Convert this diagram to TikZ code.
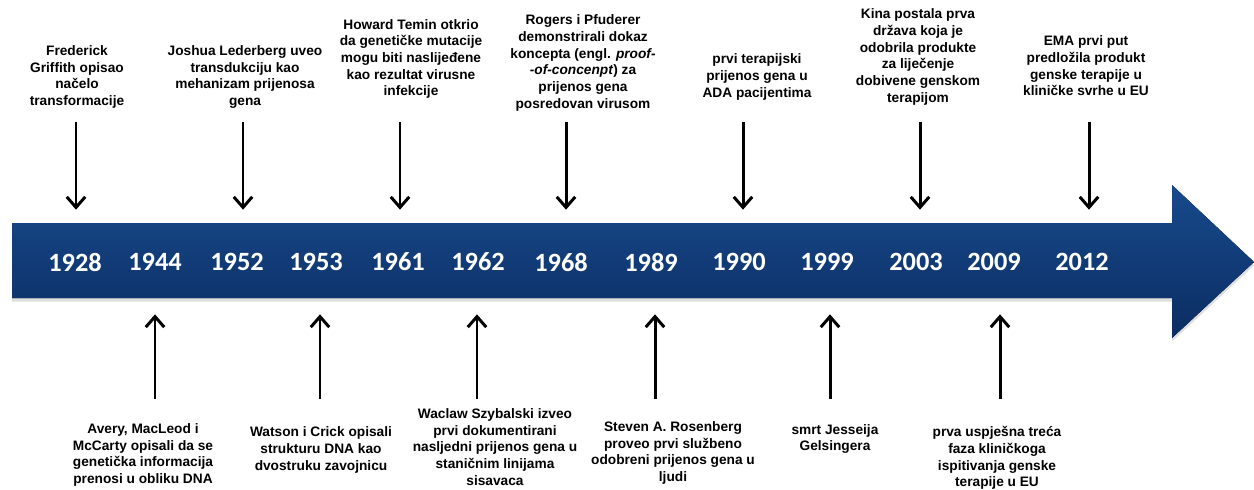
\documentclass[tikz,border=0pt]{standalone}
\usepackage{fontspec}
\setmainfont{Liberation Sans}
\newfontfamily\godfont{Carlito}
\usetikzlibrary{shapes,arrows.meta,positioning,shadows}

\definecolor{plavagore}{RGB}{24,74,140}
\definecolor{plavadolje}{RGB}{11,45,98}

\begin{document}
\begin{tikzpicture}[x=0.02cm, y=-0.02cm]
            % Stilovi
            \tikzstyle{godina} = [text=white, font=\godfont\bfseries\fontsize{15}{18}\selectfont,
            minimum height=2.08cm, inner sep=0pt]
            \tikzstyle{opis} = [align=center, inner sep=0pt, font=\bfseries\fontsize{7.8}{9.5}\selectfont]
            \tikzstyle{strelica} = [line width=1.7pt, -{Straight Barb[length=6pt, width=10.5pt]}]

            \useasboundingbox (0,0) rectangle (1254,490);

            % vremenska os
            \fill[top color=plavagore, bottom color=plavadolje,
            drop shadow={shadow xshift=0pt, shadow yshift=-2pt, opacity=0.25}]
            (12,223) -- (1172,223) -- (1172,185) -- (1254,262) -- (1172,338) -- (1172,298) -- (12,298) -- cycle;

            \node [godina] (y1928) at (75,262) {1928};
            \node [godina] (y1944) at (155,262) {1944};
            \node [godina] (y1952) at (237,262) {1952};
            \node [godina] (y1953) at (316,262) {1953};
            \node [godina] (y1961) at (398,262) {1961};
            \node [godina] (y1962) at (478,262) {1962};
            \node [godina] (y1968) at (561,262) {1968};
            \node [godina] (y1989) at (651,262) {1989};
            \node [godina] (y1990) at (739,262) {1990};
            \node [godina] (y1999) at (827,262) {1999};
            \node [godina] (y2003) at (916,262) {2003};
            \node [godina] (y2009) at (994,262) {2009};
            \node [godina] (y2012) at (1082,262) {2012};

            % gornji opisi
            \node [opis] (t1928) at (77,77) {Frederick\\Griffith opisao\\načelo\\transformacije};
            \node [opis] (t1952) at (245,77) {Joshua Lederberg uveo\\transdukciju kao\\mehanizam prijenosa\\gena};
            \node [opis] (t1961) at (411,59) {Howard Temin otkrio\\da genetičke mutacije\\mogu biti naslijeđene\\kao rezultat virusne\\infekcije};
            \node [opis] (t1968) at (583,63) {Rogers i Pfuderer\\demonstrirali dokaz\\koncepta (engl. \textit{proof-}\\\textit{-of-concenpt}) za\\prijenos gena\\posredovan virusom};
            \node [opis] (t1990) at (757,77) {prvi terapijski\\prijenos gena u\\ADA pacijentima};
            \node [opis] (t2003) at (918,57) {Kina postala prva\\država koja je\\odobrila produkte\\za liječenje\\dobivene genskom\\terapijom};
            \node [opis] (t2012) at (1086,66) {EMA prvi put\\predložila produkt\\genske terapije u\\kliničke svrhe u EU};

            % donji opisi
            \node [opis] (t1944) at (143,455) {Avery, MacLeod i\\McCarty opisali da se\\genetička informacija\\prenosi u obliku DNA};
            \node [opis] (t1953) at (321,450) {Watson i Crick opisali\\strukturu DNA kao\\dvostruku zavojnicu};
            \node [opis] (t1962) at (495,447) {Waclaw Szybalski izveo\\prvi dokumentirani\\nasljedni prijenos gena u\\staničnim linijama\\sisavaca};
            \node [opis] (t1989) at (673,453) {Steven A. Rosenberg\\proveo prvi službeno\\odobreni prijenos gena u\\ljudi};
            \node [opis] (t1999) at (835,439) {smrt Jesseija\\Gelsingera};
            \node [opis] (t2009) at (997,458) {prva uspješna treća\\faza kliničkoga\\ispitivanja genske\\terapije u EU};

            \coordinate (k1928) at (76,122);
            \coordinate (k1952) at (243,122);
            \coordinate (k1961) at (400,122);
            \coordinate (k1968) at (566,122);
            \coordinate (k1990) at (743,122);
            \coordinate (k2003) at (920,122);
            \coordinate (k2012) at (1089,122);
            \coordinate (k1944) at (155,399);
            \coordinate (k1953) at (320,399);
            \coordinate (k1962) at (477,399);
            \coordinate (k1989) at (655,399);
            \coordinate (k1999) at (830,399);
            \coordinate (k2009) at (1000,399);

            \draw [strelica] (k1928) -- (k1928 |- y1928.north);
            \draw [strelica] (k1952) -- (k1952 |- y1952.north);
            \draw [strelica] (k1961) -- (k1961 |- y1961.north);
            \draw [strelica] (k1968) -- (k1968 |- y1968.north);
            \draw [strelica] (k1990) -- (k1990 |- y1990.north);
            \draw [strelica] (k2003) -- (k2003 |- y2003.north);
            \draw [strelica] (k2012) -- (k2012 |- y2012.north);
            \draw [strelica] (k1944) -- (k1944 |- y1944.south);
            \draw [strelica] (k1953) -- (k1953 |- y1953.south);
            \draw [strelica] (k1962) -- (k1962 |- y1962.south);
            \draw [strelica] (k1989) -- (k1989 |- y1989.south);
            \draw [strelica] (k1999) -- (k1999 |- y1999.south);
            \draw [strelica] (k2009) -- (k2009 |- y2009.south);
      \end{tikzpicture}
\end{document}
